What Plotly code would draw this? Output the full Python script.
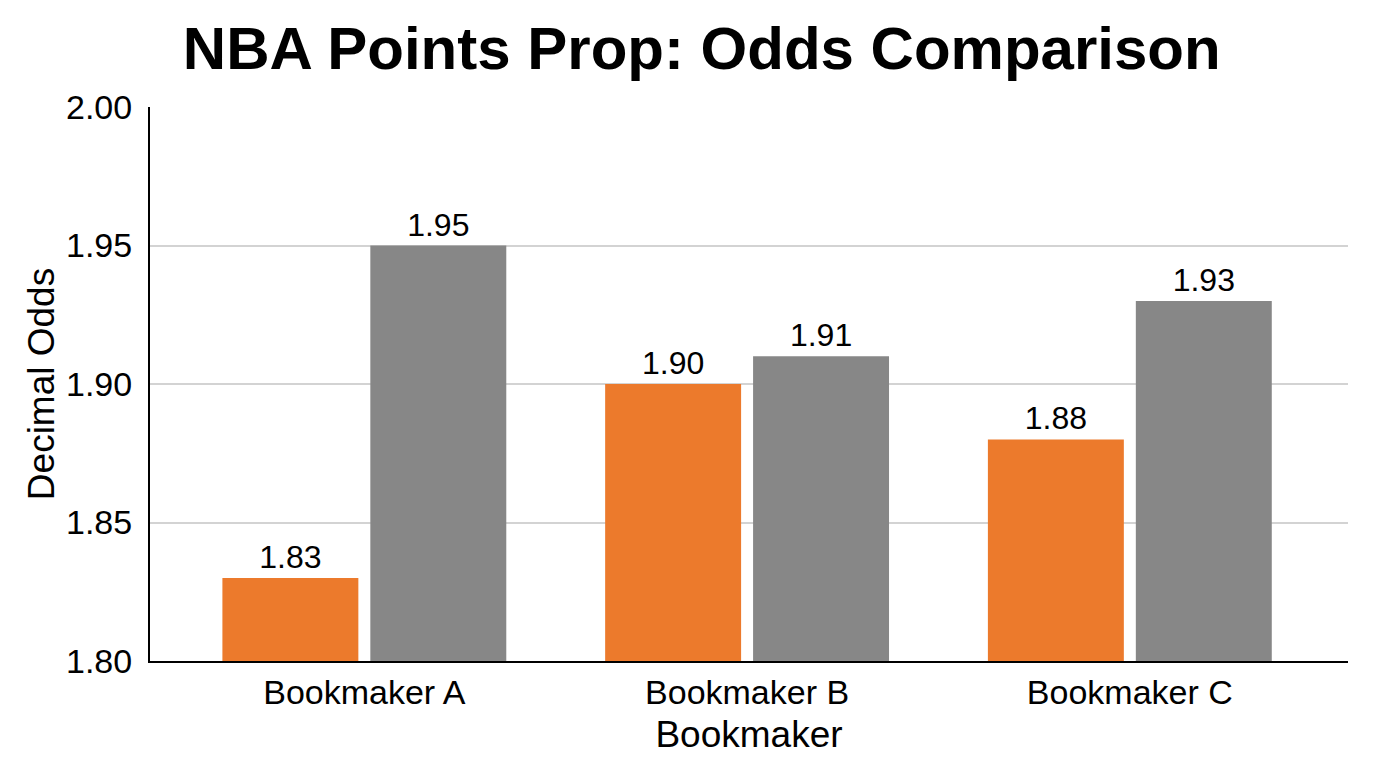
import plotly.graph_objects as go

categories = ["Bookmaker A", "Bookmaker B", "Bookmaker C"]
over_odds = [1.83, 1.90, 1.88]
under_odds = [1.95, 1.91, 1.93]
y_ticks = [1.80, 1.85, 1.90, 1.95, 2.00]

FONT = "Liberation Sans, Arial, Helvetica, sans-serif"

fig = go.Figure()
fig.add_trace(go.Bar(
    x=categories, y=over_odds, name="Over",
    marker=dict(color="#EC7A2C", line=dict(width=0)),
    text=over_odds, texttemplate="%{y:.2f}", textposition="outside",
    textfont=dict(size=32, color="#000000", family=FONT), cliponaxis=False,
))
fig.add_trace(go.Bar(
    x=categories, y=under_odds, name="Under",
    marker=dict(color="#878787", line=dict(width=0)),
    text=under_odds, texttemplate="%{y:.2f}", textposition="outside",
    textfont=dict(size=32, color="#000000", family=FONT), cliponaxis=False,
))

fig.update_layout(
    width=1376, height=768,
    margin=dict(l=150, r=28, t=107, b=107),
    paper_bgcolor="white", plot_bgcolor="white",
    showlegend=False,
    barmode="group", bargap=0.227, bargroupgap=0.081,
    title=dict(text="<b>NBA Points Prop: Odds Comparison</b>",
               x=0.51, xanchor="center", y=0.938, yanchor="middle",
               font=dict(size=60, color="#000000", family=FONT)),
    font=dict(family=FONT, color="#000000"),
)
fig.update_xaxes(
    range=[-0.56, 2.57],
    showline=True, linecolor="#000000", linewidth=2,
    showgrid=False, ticks="", tickfont=dict(size=34, color="#000000"),
    title=dict(text="Bookmaker", font=dict(size=37, color="#000000"), standoff=11),
)
fig.update_yaxes(
    range=[1.80, 2.00], tickvals=y_ticks, ticktext=[f"{v:.2f}" for v in y_ticks],
    showline=True, linecolor="#000000", linewidth=2,
    showgrid=True, gridcolor="#D3D3D3", gridwidth=1.5, zeroline=False,
    ticks="", ticklabelstandoff=9, tickfont=dict(size=34, color="#000000"),
    title=dict(text="Decimal Odds", font=dict(size=37, color="#000000"), standoff=0),
)

fig.write_html("out.html")
